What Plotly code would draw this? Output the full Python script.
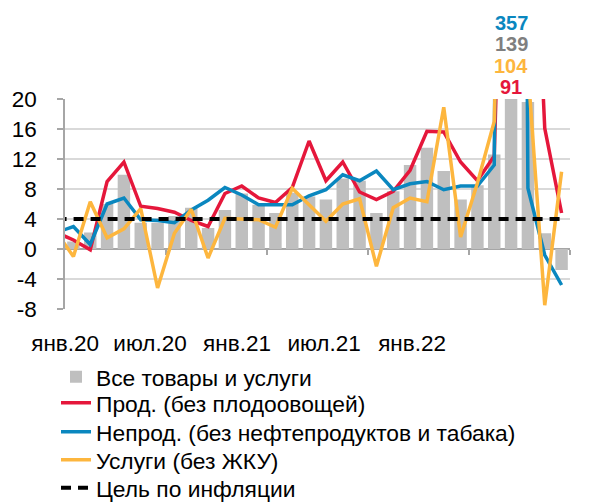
import plotly.graph_objects as go

# Months: Dec 2019 (partly off-axis) through Jun 2022
months = ["2019-12",
          "2020-01", "2020-02", "2020-03", "2020-04", "2020-05", "2020-06",
          "2020-07", "2020-08", "2020-09", "2020-10", "2020-11", "2020-12",
          "2021-01", "2021-02", "2021-03", "2021-04", "2021-05", "2021-06",
          "2021-07", "2021-08", "2021-09", "2021-10", "2021-11", "2021-12",
          "2022-01", "2022-02", "2022-03", "2022-04", "2022-05", "2022-06"]

all_goods = [None,
             1.0, 2.2, 6.0, 9.9, 3.5, 3.5,
             4.4, 5.5, 2.8, 5.2, 7.4, 5.9,
             4.8, 7.5, 7.0, 6.6, 9.4, 9.1,
             4.8, 7.7, 11.2, 13.5, 10.4, 6.6,
             8.5, 12.6, 139, 19.6, 2.1, -2.8]

food = [2.2,
        1.2, -0.1, 9.0, 11.6, 5.7, 5.4,
        4.9, 3.8, 3.0, 7.4, 8.4, 6.8,
        6.2, 8.2, 14.4, 9.1, 11.6, 7.6,
        6.6, 7.7, 10.5, 15.7, 15.6, 11.6,
        9.1, 12.4, 91, 65, 16.1, 4.8]

nonfood = [2.2,
           3.0, 0.6, 6.0, 6.8, 3.9, 3.8,
           3.5, 5.2, 6.5, 8.2, 7.2, 5.9,
           5.9, 5.9, 7.1, 7.9, 9.9, 9.1,
           10.4, 7.9, 8.7, 9.0, 7.9, 8.4,
           8.4, 11.2, 357, 8.1, -0.8, -4.8]

services = [2.2,
            -1.0, 6.3, 1.5, 2.7, 5.4, -5.2,
            2.1, 5.3, -1.2, 4.1, 4.0, 3.9,
            2.9, 8.1, 5.9, 3.7, 6.0, 6.7,
            -2.3, 5.5, 6.8, 6.3, 18.9, 1.6,
            8.8, 17.0, 104, 24, -7.5, 10.3]

target = [4.0] * len(months)

tick_labels = ["янв.20", "июл.20", "янв.21", "июл.21", "янв.22"]
tick_pos = [-0.49, 4.55, 9.72, 14.89, 20.12]
boundary_ticks = [5.5, 11.5, 17.5, 23.5, 29.5]
y_ticks = [-8, -4, 0, 4, 8, 12, 16, 20]
y_tick_text = ["-8", "-4", "0", "4", "8", "12", "16", "20"]

x = [i - 1 for i in range(len(months))]  # 0 = Jan 2020

C_BAR = "#BFBFBF"
C_RED = "#E5173B"
C_BLUE = "#0A87BF"
C_YEL = "#FDB63E"
FONT = "Arial, Liberation Sans, sans-serif"
FS = 22.5
FS_LEG = 22.8

W, H = 597, 495   # page body has an 8px margin
OFF = 8

fig = go.Figure()
fig.add_trace(go.Bar(x=x, y=all_goods, name="Все товары и услуги",
                     marker=dict(color=C_BAR, line=dict(width=0)),
                     customdata=months, legend="legend"))
fig.add_trace(go.Scatter(x=x, y=food, name="Прод. (без плодоовощей)",
                         mode="lines", line=dict(color=C_RED, width=3.5),
                         legend="legend2"))
fig.add_trace(go.Scatter(x=x, y=nonfood, name="Непрод. (без нефтепродуктов и табака)",
                         mode="lines", line=dict(color=C_BLUE, width=3.5),
                         legend="legend3"))
fig.add_trace(go.Scatter(x=x, y=services, name="Услуги (без ЖКУ)",
                         mode="lines", line=dict(color=C_YEL, width=3.5),
                         legend="legend4"))
fig.add_trace(go.Scatter(x=x, y=target, name="Цель по инфляции",
                         mode="lines", line=dict(color="black", width=4, dash="10px,7px"),
                         legend="legend5"))
# helper axis drawn at y = 0 with month-boundary ticks
fig.add_trace(go.Scatter(x=[None], y=[None], xaxis="x2", showlegend=False,
                         hoverinfo="skip"))

ymin, ymax = -8, 20
zero_pos = (0 - ymin) / (ymax - ymin)

# peak labels
peaks = [(nonfood, C_BLUE, 1.362), (all_goods, "#7F7F7F", 1.261),
         (services, C_YEL, 1.158), (food, C_RED, 1.055)]
for series, col, ypos in peaks:
    vals = [v if v is not None else float("-inf") for v in series]
    k = vals.index(max(vals))
    fig.add_annotation(x=x[k], y=ypos, xref="x", yref="paper",
                       text=f"<b>{round(series[k])}</b>", showarrow=False,
                       font=dict(family=FONT, size=20, color=col),
                       xanchor="center", yanchor="middle")

# one legend per row so rows sit as tightly as in the reference
row_centers = [377, 403, 432, 460, 488]
legends = {}
for j, py in enumerate(row_centers):
    key = "legend" if j == 0 else f"legend{j + 1}"
    legends[key] = dict(xref="container", yref="container", x=(56 - OFF) / W,
                        y=1 - (py - OFF) / H, xanchor="left", yanchor="middle",
                        font=dict(size=FS_LEG, family=FONT), itemwidth=30,
                        bgcolor="rgba(0,0,0,0)", borderwidth=0)

fig.update_layout(
    width=W, height=H,
    margin=dict(l=65 - OFF, r=35, t=99 - OFF, b=194, autoexpand=False),
    paper_bgcolor="white", plot_bgcolor="white",
    bargap=0.26,
    font=dict(family=FONT, size=FS, color="black"),
    showlegend=True,
    xaxis=dict(range=[-0.5, 29.5], showgrid=False, zeroline=False,
               showline=False, ticks="", tickmode="array",
               tickvals=tick_pos, ticktext=tick_labels,
               ticklabelstandoff=18, tickfont=dict(size=FS)),
    xaxis2=dict(range=[-0.5, 29.5], overlaying="x", anchor="free",
                position=zero_pos, showgrid=False, zeroline=False,
                showline=True, linecolor="#A6A6A6", linewidth=1.5,
                ticks="outside", ticklen=5, tickcolor="#A6A6A6",
                tickwidth=1.5, tickmode="array", tickvals=boundary_ticks,
                showticklabels=False, layer="below traces"),
    yaxis=dict(range=[ymin, ymax], tickmode="array", tickvals=y_ticks,
               ticktext=y_tick_text,
               showgrid=True, gridcolor="#D9D9D9", gridwidth=1.5,
               zeroline=False, showline=True, linecolor="#A6A6A6",
               linewidth=1.5, ticks="outside", ticklen=6,
               tickcolor="#A6A6A6", tickwidth=1.5,
               ticklabelstandoff=16, tickfont=dict(size=FS)),
    **legends,
)

fig.write_html("out.html")
